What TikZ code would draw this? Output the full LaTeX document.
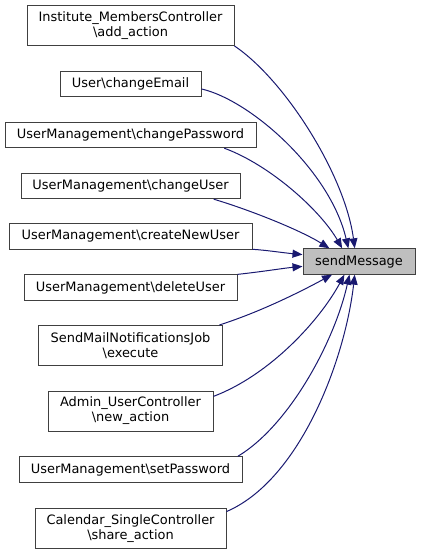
\documentclass[tikz,border=0pt]{standalone}
\usepackage{fontspec}
\setmainfont{DejaVu Sans}
\usetikzlibrary{arrows.meta,calc}
\definecolor{navyedge}{HTML}{191970}
\definecolor{framegray}{HTML}{404040}
\definecolor{focusgray}{HTML}{BFBFBF}

\begin{document}
\begin{tikzpicture}[
    x=0.75pt, y=-0.75pt,
    box/.style={rectangle, draw=framegray, line width=0.75pt, fill=white, inner sep=0pt, align=center, font=\fontsize{9.7}{11.25}\selectfont, minimum height=19pt},
    tallbox/.style={box, minimum height=30pt},
    arrow/.style={{Triangle[length=7.5pt, width=6pt]}-, line width=0.75pt, draw=navyedge}
]
    \useasboundingbox (0,0) rectangle (420,555);

    % Called function
    \node[box, fill=focusgray, minimum width=84pt] (send) at (359,261.5) {sendMessage};

    % Callers
    \node[tallbox, minimum width=155.25pt] (add_action) at (130.5,25.5) {Institute\_MembersController\\\textbackslash add\_action};
    \node[box, minimum width=105.75pt] (change_email) at (130.5,84) {User\textbackslash changeEmail};
    \node[box, minimum width=188.25pt] (change_password) at (130.5,135) {UserManagement\textbackslash changePassword};
    \node[box, minimum width=164.25pt] (change_user) at (130.5,186) {UserManagement\textbackslash changeUser};
    \node[box, minimum width=182.25pt] (create_user) at (130.5,236.5) {UserManagement\textbackslash createNewUser};
    \node[box, minimum width=159.75pt] (delete_user) at (130.5,287.5) {UserManagement\textbackslash deleteUser};
    \node[tallbox, minimum width=138pt] (execute) at (130.5,345.5) {SendMailNotificationsJob\\\textbackslash execute};
    \node[tallbox, minimum width=123.75pt] (new_action) at (130.5,411) {Admin\_UserController\\\textbackslash new\_action};
    \node[box, minimum width=167.25pt] (set_password) at (130.5,469.5) {UserManagement\textbackslash setPassword};
    \node[tallbox, minimum width=143.25pt] (share_action) at (130.5,528.5) {Calendar\_SingleController\\\textbackslash share\_action};

    % Arrows: from above
    \draw[arrow] (send.108) .. controls (345,175) and (285,80) .. (add_action.south east);
    \draw[arrow] (send.129) .. controls (330,170) and (250,100) .. (change_email.-4);
    \draw[arrow] (send.142) .. controls (320,210) and (270,165) .. (change_password.-8);
    \draw[arrow] (send.156) .. controls (300,230) and (250,210) .. (change_user.-9);

    % Arrows: from the side
    \draw[arrow] (send.173) .. controls (285,253) and (265,250) .. (create_user.-6);
    \draw[arrow] (send.185) .. controls (285,268) and (260,272) .. (delete_user.7);

    % Arrows: from below
    \draw[arrow] (send.206) .. controls (300,292) and (260,312) .. (execute.13);
    \draw[arrow] (send.222) .. controls (320,320) and (270,375) .. (new_action.10);
    \draw[arrow] (send.234) .. controls (335,340) and (290,425) .. (set_password.7);
    \draw[arrow] (send.252) .. controls (345,360) and (300,480) .. (share_action.10);
\end{tikzpicture}
\end{document}
